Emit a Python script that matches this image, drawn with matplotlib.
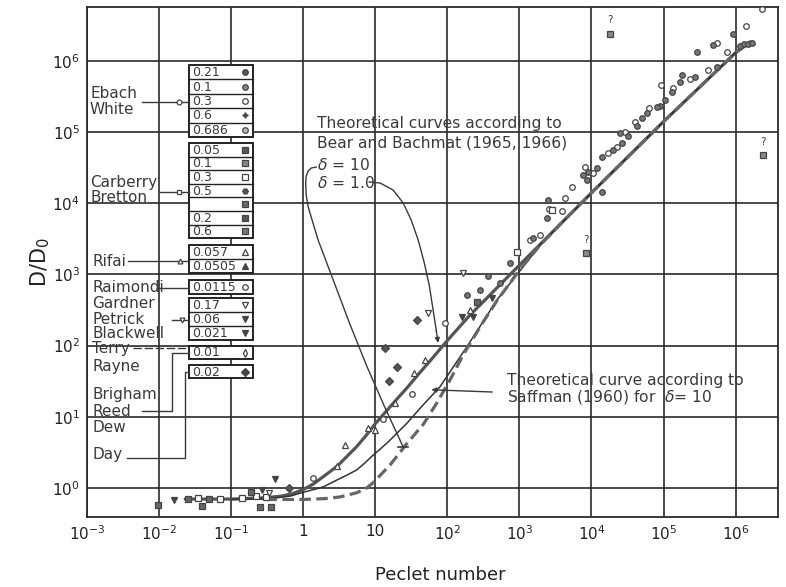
import matplotlib
matplotlib.use("Agg")
import matplotlib.pyplot as plt
from matplotlib.patches import Rectangle

# ------------------------------------------------------------------ data
x_tick_vals = [1e-3, 1e-2, 1e-1, 1, 10, 1e2, 1e3, 1e4, 1e5, 1e6]
x_tick_labels = [r"$10^{-3}$", r"$10^{-2}$", r"$10^{-1}$", "1", "10",
                 r"$10^{2}$", r"$10^{3}$", r"$10^{4}$", r"$10^{5}$", r"$10^{6}$"]
y_tick_vals = [1, 10, 1e2, 1e3, 1e4, 1e5, 1e6]
y_tick_labels = [r"$10^{0}$", r"$10^{1}$", r"$10^{2}$", r"$10^{3}$",
                 r"$10^{4}$", r"$10^{5}$", r"$10^{6}$"]

# theoretical curves (Pe, D/D0)
bear_d1_pe = [0.023, 0.1, 0.3, 0.5, 0.7, 1.0, 1.4, 2.0, 3.0, 4.0, 5.5, 7.5, 10,
              14, 20, 28, 40, 60, 100, 200, 1000, 1e4, 1e5, 1e6, 1.6e6]
bear_d1_d = [0.70, 0.70, 0.73, 0.77, 0.83, 0.95, 1.15, 1.5, 2.05, 2.75, 3.8, 5.5, 8.0,
             11.8, 17.8, 26, 40, 64, 118, 260, 1350, 14000, 1.4e5, 1.3e6, 1.85e6]
saff_d10_pe = [0.1, 0.3, 0.66, 1.0, 1.5, 1.91, 3.0, 4.2, 5.5, 7.0, 9.0, 12, 16, 27.4,
               45, 79, 120, 186, 300, 490, 1000, 1950, 1e4, 1e5, 1e6, 1.6e6]
saff_d10_d = [0.69, 0.70, 0.77, 0.87, 0.97, 1.04, 1.31, 1.55, 1.79, 2.2, 2.8, 3.6, 4.7,
              8.1, 14.3, 26.4, 49.5, 96, 203, 440, 1100, 2600, 14000, 1.4e5, 1.3e6,
              1.85e6]
bear_d10_pe = [0.3, 1.0, 2.0, 3.26, 5.55, 7.5, 9.45, 12, 16, 27.4, 46.6, 71, 109,
               167, 300, 490, 1000, 1950, 4000, 1e4, 1e5, 1e6, 1.6e6]
bear_d10_d = [0.69, 0.69, 0.71, 0.75, 0.86, 0.99, 1.2, 1.55, 2.1, 4.2, 7.9, 15.5, 33,
              75, 200, 430, 1150, 2600, 5500, 14000, 1.4e5, 1.3e6, 1.85e6]

# experimental points
open_circ_pe = [1.38, 12.8, 32.5, 93, 1400, 1900, 2600, 3900, 4300, 5400, 8200, 10500,
                17000, 22800, 29300, 40000, 63000, 93000, 1.35e5, 2.3e5, 4.2e5,
                5.5e5, 7.6e5, 1.4e6, 2.3e6]
open_circ_d = [1.38, 9.3, 21, 208, 3000, 3600, 8200, 7800, 12000, 17000, 32000, 26600,
               51000, 62000, 1.0e5, 1.38e5, 2.2e5, 4.6e5, 4.2e5, 5.5e5, 7.4e5,
               1.78e6, 1.33e6, 3.1e6, 5.4e6]
fill_circ_pe = [188, 285, 368, 540, 745, 1550, 2400, 2500, 8900, 12000, 8700, 7600,
                14000, 20000, 25000, 32000, 26600, 50000, 43000, 59000, 1.05e5,
                89000, 81000, 1.7e5, 1.32e5, 2.7e5, 1.8e5, 5.5e5, 2.9e5, 4.9e5,
                9.1e5, 1.15e6, 1.3e6, 1.5e6, 1.7e6, 14000]
fill_circ_d = [512, 600, 950, 760, 1450, 3300, 6200, 11000, 27500, 31000, 21200, 25000,
               44600, 56000, 97000, 87000, 70000, 1.58e5, 1.2e5, 1.86e5, 2.8e5,
               2.34e5, 2.24e5, 5.0e5, 3.6e5, 5.9e5, 6.3e5, 8.2e5, 1.33e6, 1.66e6,
               2.4e6, 1.6e6, 1.75e6, 1.7e6, 1.8e6, 14400]
open_sq_pe = [0.035, 0.07, 0.14, 0.22, 0.30, 930, 2800]
open_sq_d = [0.72, 0.71, 0.72, 0.78, 0.75, 2050, 8000]
fill_sq_pe = [0.0098, 0.039, 0.25, 0.36, 0.025, 0.05, 0.19, 260]
fill_sq_d = [0.58, 0.56, 0.54, 0.54, 0.71, 0.70, 0.88, 410]
query_sq_pe = [18000, 2.4e6, 8400]
query_sq_d = [2.4e6, 47000, 2000]
open_tri_pe = [2.95, 3.8, 8.0, 10, 18.9, 34.6, 49, 207]
open_tri_d = [2.04, 4.0, 7.0, 6.5, 15.6, 41, 63, 316]
fill_vtri_pe = [0.016, 0.41, 0.27, 160, 228, 420]
fill_vtri_d = [0.68, 1.34, 0.95, 250, 250, 465]
open_vtri_pe = [0.33, 54, 166]
open_vtri_d = [0.85, 288, 1050]
diam_pe = [0.64, 13.7, 20, 15.6, 38]
diam_d = [1.0, 92, 50, 32, 228]

# legend table
legend_groups = [
    ["0.21", "0.1", "0.3", "0.6", "0.686"],
    ["0.05", "0.1", "0.3", "0.5", "", "0.2", "0.6"],
    ["0.057", "0.0505"],
    ["0.0115"],
    ["0.17", "0.06", "0.021"],
    ["0.01"],
    ["0.02"],
]
legend_markers = [
    [("o", "#555"), ("o", "#888"), ("o", "white"), ((4, 1, 0), "#444"), ("o", "#bbb")],
    [("s", "#555"), ("s", "#888"), ("s", "white"), ("H", "#555"), ("s", "#666"),
     ("s", "#555"), ("s", "#777")],
    [("^", "white"), ("^", "#444")],
    [("o", "white")],
    [("v", "white"), ("v", "#444"), ("v", "#444")],
    [("d", "white")],
    [("D", "#444")],
]
author_labels = ["Ebach", "White", "Carberry", "Bretton", "Rifai", "Raimondi",
                 "Gardner", "Petrick", "Blackwell", "Terry", "Rayne",
                 "Brigham", "Reed", "Dew", "Day"]

# ------------------------------------------------------------------ figure
W, H = 786, 587
fig = plt.figure(figsize=(W / 100, H / 100), dpi=100)
L, R, T, B = 87, 778, 7, 517
ax = fig.add_axes([L / W, 1 - B / H, (R - L) / W, (B - T) / H])
ax.set_xscale("log")
ax.set_yscale("log")
ax.set_xlim(1e-3, 10 ** 6.588)
ax.set_ylim(10 ** -0.407, 10 ** 6.756)
ax.set_xticks(x_tick_vals)
ax.set_xticklabels(x_tick_labels)
ax.set_yticks(y_tick_vals)
ax.set_yticklabels(y_tick_labels)
ax.minorticks_off()
ax.tick_params(length=0, labelsize=11, colors="#222", pad=5)
ax.set_axisbelow(True)
ax.grid(True, which="major", color="#2a2a2a", linewidth=1.2)
for s in ax.spines.values():
    s.set_color("#2a2a2a")
    s.set_linewidth(1.3)

ink = "#3a3a3a"

# theoretical curves
ax.plot(bear_d1_pe, bear_d1_d, color="#555", lw=2.3, zorder=3,
        solid_capstyle="round", solid_joinstyle="round")
ax.plot(saff_d10_pe, saff_d10_d, color="#333", lw=1.1, zorder=3,
        solid_joinstyle="round")
ax.plot(bear_d10_pe, bear_d10_d, color="#666", lw=2.3, ls=(0, (3.6, 1.7)), zorder=3)

# points
ms = 4
kw = dict(ls="none", ms=ms, mew=0.9, mec="#444", zorder=4)
ax.plot(open_circ_pe, open_circ_d, marker="o", mfc="white", **kw)
ax.plot(fill_circ_pe, fill_circ_d, marker="o", mfc="#777", **kw)
ax.plot(open_sq_pe, open_sq_d, marker="s", mfc="white", **kw)
ax.plot(fill_sq_pe, fill_sq_d, marker="s", mfc="#666", **kw)
ax.plot(query_sq_pe, query_sq_d, marker="s", mfc="#888", **kw)
ax.plot(open_tri_pe, open_tri_d, marker="^", mfc="white", **kw)
ax.plot(fill_vtri_pe, fill_vtri_d, marker="v", mfc="#444", **kw)
ax.plot(open_vtri_pe, open_vtri_d, marker="v", mfc="white", **kw)
ax.plot(diam_pe, diam_d, marker="D", mfc="#555", ls="none", ms=3.6, mew=0.9,
        mec="#444", zorder=4)
for xq, yq in zip(query_sq_pe, query_sq_d):
    ax.annotate("?", (xq, yq), xytext=(0, 6), textcoords="offset points",
                ha="center", va="bottom", fontsize=7.5, color=ink)

# annotation leaders (data coordinates)
ax.plot([1.514, 1.29, 1.173, 1.10, 1.083, 1.10, 1.173, 1.61, 2.61, 4.49, 7.72,
         13.7, 24.4],
        [32200, 31200, 28300, 24100, 19200, 13000, 8850, 3040, 834, 195, 50,
         13.3, 3.77],
        color=ink, lw=1.0, zorder=3, solid_joinstyle="round")
ax.plot([20.8, 28.6], [3.77, 3.77], color=ink, lw=1.2, zorder=3)
ax.plot([8.23, 11.7, 17.7, 24.4, 31.5, 39.4, 47.6, 56.0, 63.5, 70.0],
        [19900, 19200, 15300, 10070, 5810, 3040, 1490, 710, 316, 166],
        color=ink, lw=1.0, zorder=3, solid_joinstyle="round")
ax.annotate("", xy=(74.5, 109), xytext=(70.0, 166),
            arrowprops=dict(arrowstyle="-|>", color=ink, lw=1.0,
                            mutation_scale=7, shrinkA=0, shrinkB=0), zorder=3)
ax.annotate("", xy=(60, 24), xytext=(420, 22.3),
            arrowprops=dict(arrowstyle="-|>", color=ink, lw=1.0,
                            mutation_scale=7, shrinkA=0, shrinkB=0), zorder=3)

fs_txt = 11.2


def px(x, y):
    return x / W, 1 - y / H


def ftext(x, y, s, **k):
    d = dict(fontsize=fs_txt, color=ink, va="center", ha="left",
             transform=fig.transFigure, zorder=6)
    d.update(k)
    ax.text(*px(x, y), s, **d)


ftext(317, 124, "Theoretical curves according to")
ftext(317, 143, "Bear and Bachmat (1965, 1966)")
ftext(317, 165, r"$\delta$ = 10")
ftext(317, 183, r"$\delta$ = 1.0")
ftext(507, 381, "Theoretical curve according to")
ftext(507, 397, r"Saffman (1960) for  $\delta$= 10")

# legend table
box_x0, box_x1 = 189, 253
group_tops = [65, 143, 245, 280, 298, 346, 365]
group_rows = [14.4, 13.6, 14, 14, 14, 13, 13]
for vals, mks, top, rh in zip(legend_groups, legend_markers, group_tops, group_rows):
    n = len(vals)
    bx, by = px(box_x0, top + n * rh)
    ax.add_patch(Rectangle((bx, by), (box_x1 - box_x0) / W, n * rh / H,
                           transform=fig.transFigure, facecolor="white",
                           edgecolor="#222", lw=1.4, zorder=5, clip_on=False))
    for i, (v, (m, fc)) in enumerate(zip(vals, mks)):
        yc = top + (i + 0.5) * rh
        if i > 0:
            ax.plot([box_x0 / W, box_x1 / W], [1 - (top + i * rh) / H] * 2,
                    transform=fig.transFigure, color="#222", lw=1.0,
                    zorder=5.5, clip_on=False)
        ftext(box_x0 + 3, yc + 0.5, v, fontsize=9)
        ax.plot([245 / W], [1 - yc / H], transform=fig.transFigure, marker=m,
                ms=4, mfc=fc, mec="#444", mew=0.9, ls="none", zorder=6,
                clip_on=False)

label_pos = [(90, 93), (90, 110), (90, 183), (90, 198), (92, 262), (92, 288),
             (92, 304), (92, 319), (92, 334), (92, 349), (92, 366),
             (92, 395), (92, 411), (92, 428), (92, 454)]
for s, (x, y) in zip(author_labels, label_pos):
    ftext(x, y, s, fontsize=11)


def fline(xs, ys, **k):
    d = dict(color=ink, lw=1.0, zorder=5, clip_on=False)
    d.update(k)
    ax.plot([x / W for x in xs], [1 - y / H for y in ys],
            transform=fig.transFigure, **d)


def fmark(x, y, m, fc="white"):
    ax.plot([x / W], [1 - y / H], transform=fig.transFigure, marker=m, ms=3.5,
            mfc=fc, mec="#444", mew=0.9, ls="none", zorder=6, clip_on=False)


fline([142, 189], [102, 102]); fmark(179, 102, "o")
fline([160, 189], [192, 192]); fmark(179, 192, "s")
fline([128, 189], [261, 261]); fmark(180, 261, "^")
fline([157, 189], [288, 288])
fline([172, 189], [320, 320]); fmark(182, 320, "v")
fline([133, 189], [348, 348], ls=(0, (6, 2)))
fline([142, 172, 172, 189], [411, 411, 353, 353])
fline([127, 185, 185, 189], [458, 458, 372, 372])

fig.text(*px(440, 575), "Peclet number", fontsize=13, color="#222",
         ha="center", va="center")
fig.text(*px(40, 262), r"D/D$_0$", fontsize=15, color="#222", rotation=90,
         ha="center", va="center")

fig.savefig("out.png", dpi=100, facecolor="white")
